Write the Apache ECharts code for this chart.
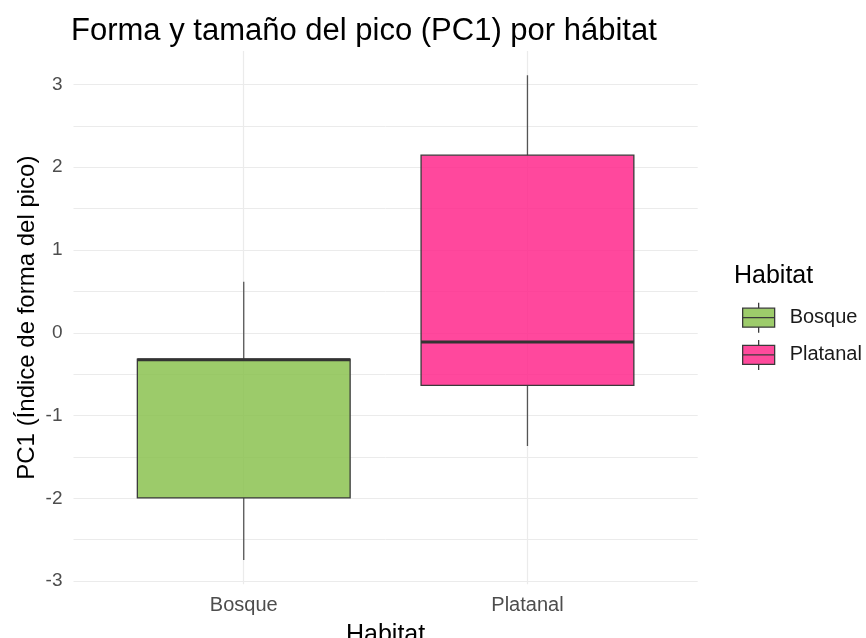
<!DOCTYPE html>
<html>
<head>
<meta charset="utf-8">
<script src="https://cdn.jsdelivr.net/npm/echarts@6/dist/echarts.min.js"></script>
<style>
html,body{margin:0;padding:0;background:#fff;}
#chart{width:866px;height:638px;}
</style>
</head>
<body>
<div id="chart"></div>
<script>
// ---- data ----
const categories = ['Bosque', 'Platanal'];
const categoryPos = [1, 2];
const whiskerLow = [-2.746, -1.368];
const q1 = [-1.996, -0.635];
const median = [-0.325, -0.112];
const q3 = [-0.318, 2.146];
const whiskerHigh = [0.616, 3.111];
const yTicks = [-3, -2, -1, 0, 1, 2, 3];
const yMinorTicks = [-2.5, -1.5, -0.5, 0.5, 1.5, 2.5];
const fills = ['rgba(139,194,80,0.85)', 'rgba(255,40,140,0.85)'];
const legendFills = ['#9dcc6b', '#ff4a9c'];

const halfBox = 0.375;
const gridColor = '#ebebeb';

function makeRender(fill) {
  return function (params, api) {
    const x = api.value(0);
    const lo = api.value(1), a = api.value(2), m = api.value(3), b = api.value(4), hi = api.value(5);
    const pHi = api.coord([x, hi]);
    const pB = api.coord([x, b]);
    const pA = api.coord([x, a]);
    const pLo = api.coord([x, lo]);
    const pM = api.coord([x, m]);
    const left = api.coord([x - halfBox, b])[0];
    const right = api.coord([x + halfBox, b])[0];
    const wStyle = { stroke: '#555555', lineWidth: 1.3 };
    return {
      type: 'group',
      children: [
        { type: 'line', shape: { x1: pHi[0], y1: pHi[1], x2: pB[0], y2: pB[1] }, style: wStyle },
        { type: 'line', shape: { x1: pA[0], y1: pA[1], x2: pLo[0], y2: pLo[1] }, style: wStyle },
        { type: 'rect', shape: { x: left, y: pB[1], width: right - left, height: pA[1] - pB[1] },
          style: { fill: fill, stroke: '#3a3a3a', lineWidth: 1.3 } },
        { type: 'line', shape: { x1: left, y1: pM[1], x2: right, y2: pM[1] },
          style: { stroke: '#333333', lineWidth: 3 } }
      ]
    };
  };
}

const series = categories.map(function (c, i) {
  return {
    name: c,
    type: 'custom',
    xAxisIndex: 0,
    yAxisIndex: 0,
    renderItem: makeRender(fills[i]),
    itemStyle: { color: legendFills[i] },
    encode: { x: 0, y: [1, 2, 3, 4, 5] },
    data: [[categoryPos[i], whiskerLow[i], q1[i], median[i], q3[i], whiskerHigh[i]]]
  };
});

const iconPath = 'path://M0,5.5 L32,5.5 L32,24.5 L0,24.5 Z M16,0 L16,5.5 M16,24.5 L16,30 M0,15 L32,15';

const option = {
  backgroundColor: '#ffffff',
  animation: false,
  textStyle: { fontFamily: 'Liberation Sans, Arial, sans-serif' },
  title: [
    {
      text: 'Forma y tamaño del pico (PC1) por hábitat',
      left: 71, top: 16, padding: 0,
      textStyle: { fontSize: 31, fontWeight: 'normal', color: '#000000', fontFamily: 'Liberation Sans, Arial, sans-serif' }
    },
    {
      text: 'Habitat',
      left: 734, top: 264, padding: 0,
      textStyle: { fontSize: 25, fontWeight: 'normal', color: '#000000', fontFamily: 'Liberation Sans, Arial, sans-serif' }
    }
  ],
  legend: {
    orient: 'vertical',
    left: 742, top: 302,
    padding: 0,
    itemWidth: 32, itemHeight: 30, itemGap: 6,
    icon: iconPath,
    textStyle: { fontSize: 20, color: '#1a1a1a', padding: [0, 0, 0, 10], fontFamily: 'Liberation Sans, Arial, sans-serif' },
    data: categories.map(function (c, i) {
      return { name: c, itemStyle: { color: legendFills[i], borderColor: '#3a3a3a', borderWidth: 1.3 } };
    })
  },
  grid: { left: 73.5, right: 168.3, top: 51, bottom: 53.7, containLabel: false, outerBoundsMode: 'none' },
  xAxis: {
    type: 'value',
    min: 0.4, max: 2.6,
    name: 'Habitat',
    nameLocation: 'middle',
    nameGap: 38,
    nameMoveOverlap: false,
    nameTextStyle: { fontSize: 25, color: '#000000', fontFamily: 'Liberation Sans, Arial, sans-serif', verticalAlign: 'top' },
    axisLine: { show: false },
    axisTick: { show: false, customValues: categoryPos },
    axisLabel: {
      customValues: categoryPos,
      margin: 11,
      fontSize: 20, color: '#4d4d4d',
      formatter: function (v) { return categories[Math.round(v) - 1]; }
    },
    splitLine: { show: true, lineStyle: { color: gridColor, width: 1.2 } }
  },
  yAxis: [
    {
      type: 'value',
      min: -3.039, max: 3.404,
      name: 'PC1 (Índice de forma del pico)',
      nameLocation: 'middle',
      nameGap: 34,
      nameMoveOverlap: false,
      nameRotate: 90,
      nameTextStyle: { fontSize: 24, color: '#000000', fontFamily: 'Liberation Sans, Arial, sans-serif' },
      axisLine: { show: false },
      axisTick: { show: false, customValues: yTicks },
      axisLabel: { customValues: yTicks, margin: 11, fontSize: 19, color: '#4d4d4d' },
      splitLine: { show: true, showMinLine: true, showMaxLine: true, lineStyle: { color: gridColor, width: 1.2 } }
    },
    {
      type: 'value',
      min: -3.039, max: 3.404,
      position: 'left',
      axisLine: { show: false },
      axisTick: { show: false, customValues: yMinorTicks },
      axisLabel: { show: false, customValues: yMinorTicks },
      splitLine: { show: true, lineStyle: { color: gridColor, width: 1 } }
    }
  ],
  series: series
};

const chart = echarts.init(document.getElementById('chart'), null, { renderer: 'canvas' });
chart.setOption(option);
</script>
</body>
</html>
